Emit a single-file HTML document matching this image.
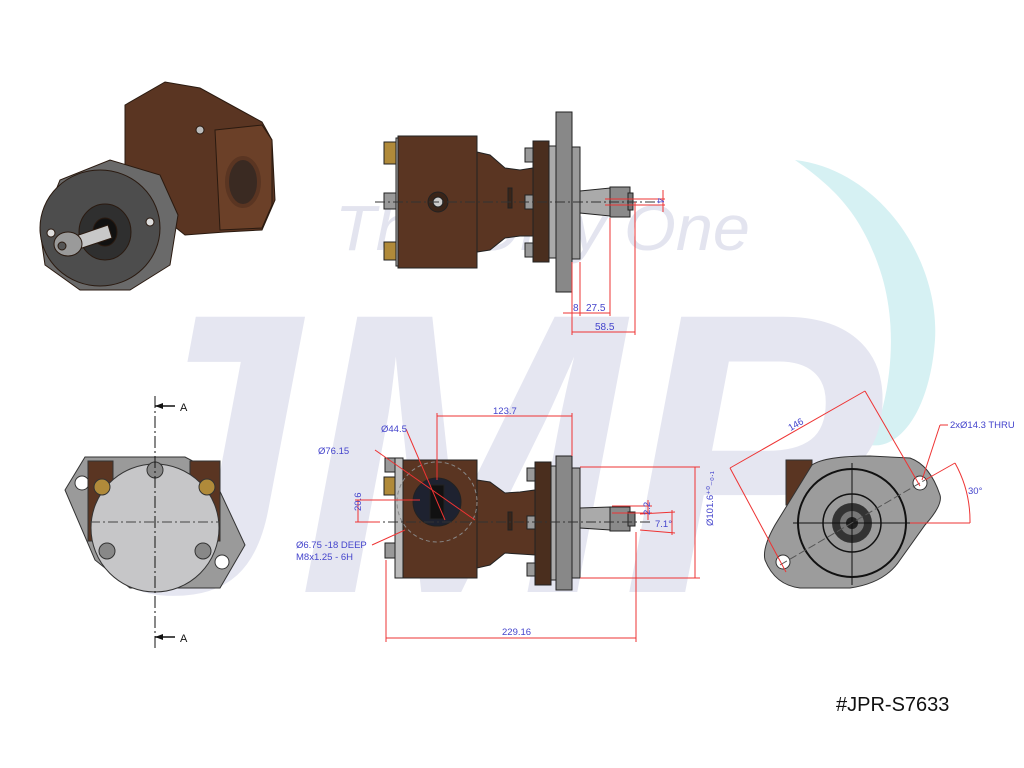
<!DOCTYPE html>
<html><head><meta charset="utf-8"><style>
html,body{margin:0;padding:0;background:#fff;}
svg{display:block;}
text{font-family:"Liberation Sans",sans-serif;}
</style></head><body>
<svg width="1024" height="768" viewBox="0 0 1024 768" xmlns="http://www.w3.org/2000/svg">
<!-- watermark -->
<path d="M795,160 C880,170 940,260 935,340 C930,410 900,450 870,445 C890,400 900,330 880,270 C860,210 830,185 795,160 Z" fill="#d6f1f3"/>
<text x="82" y="592" font-size="400" font-weight="bold" font-style="italic" fill="#e5e6f1" textLength="800" lengthAdjust="spacingAndGlyphs">JMP</text>
<text x="335" y="250" font-size="64" font-style="italic" fill="#e3e4ef" textLength="415" lengthAdjust="spacingAndGlyphs">The Only One</text>

<!-- ISO view -->
<g stroke="#2a1a10" stroke-width="1">
<path d="M125,105 L165,82 L200,88 L240,110 L262,122 L272,140 L275,200 L262,230 L225,232 L185,235 L160,215 L125,180 Z" fill="#5a3522"/>
<path d="M215,130 L262,125 L272,140 L272,205 L262,228 L220,230 Z" fill="#6b4028"/>
<ellipse cx="243" cy="182" rx="16" ry="24" fill="#3a2a22" stroke="#5a3522" stroke-width="4"/>
<circle cx="200" cy="130" r="4" fill="#bbb"/>
<path d="M40,230 L60,180 L110,160 L160,175 L178,215 L170,265 L130,290 L80,290 L45,265 Z" fill="#6a6a6a"/>
<ellipse cx="100" cy="228" rx="60" ry="58" fill="#4d4d4d"/>
<ellipse cx="105" cy="232" rx="26" ry="28" fill="#2f2f2f"/>
<ellipse cx="105" cy="232" rx="12" ry="14" fill="#111"/>
<polygon points="108,225 112,238 70,252 64,240" fill="#c8c8c8"/>
<ellipse cx="68" cy="244" rx="14" ry="12" fill="#9a9a9a"/>
<circle cx="62" cy="246" r="4" fill="#555"/>
<circle cx="51" cy="233" r="4" fill="#ddd"/><circle cx="150" cy="222" r="4" fill="#ddd"/>
</g>

<!-- TOP side view -->
<g stroke="#222" stroke-width="1">
<rect x="384" y="142" width="14" height="22" fill="#b08a3a"/>
<rect x="384" y="193" width="14" height="16" fill="#999"/>
<rect x="384" y="242" width="14" height="18" fill="#b08a3a"/>
<rect x="396" y="138" width="4" height="128" fill="#bbb"/>
<rect x="398" y="136" width="79" height="132" fill="#5a3522"/>
<path d="M477,152 L490,155 L505,168 L520,170 L533,168 L533,236 L520,236 L505,238 L490,250 L477,252 Z" fill="#5a3522"/>
<rect x="525" y="148" width="9" height="14" fill="#999"/><rect x="525" y="195" width="9" height="14" fill="#999"/><rect x="525" y="243" width="9" height="14" fill="#999"/>
<rect x="533" y="141" width="16" height="121" fill="#4a2e1e"/>
<rect x="549" y="146" width="8" height="112" fill="#aaa"/>
<rect x="556" y="112" width="16" height="180" fill="#888"/>
<rect x="572" y="147" width="8" height="112" fill="#9a9a9a"/>
<path d="M580,191 L610,188 L610,216 L580,213 Z" fill="#aaa"/>
<rect x="610" y="187" width="20" height="30" fill="#8a8a8a"/>
<rect x="628" y="193" width="5" height="17" fill="#777"/>
<circle cx="438" cy="202" r="10" fill="#3a2418"/><circle cx="438" cy="202" r="5" fill="#ccc"/>
<rect x="508" y="188" width="4" height="20" fill="#3a2418"/>
</g>
<line x1="375" y1="202" x2="660" y2="202" stroke="#333" stroke-width="1" stroke-dasharray="10,3,2,3"/>
<g stroke="#e33" stroke-width="1" fill="none">
<line x1="572" y1="262" x2="572" y2="335"/><line x1="580" y1="262" x2="580" y2="316"/>
<line x1="610" y1="218" x2="610" y2="316"/><line x1="635" y1="202" x2="635" y2="335"/>
<line x1="563" y1="313" x2="610" y2="313"/><line x1="572" y1="332" x2="635" y2="332"/>
<line x1="605" y1="199" x2="665" y2="199"/><line x1="605" y1="205" x2="665" y2="205"/>
<line x1="663" y1="190" x2="663" y2="212"/>
</g>
<g fill="#4444cc" font-size="10">
<text x="573" y="311">8</text><text x="586" y="311">27.5</text><text x="595" y="330">58.5</text>
<text x="656" y="205" transform="rotate(90 660 202)">4</text>
</g>

<!-- Front view (left) -->
<path d="M85,457 L185,457 L210,470 L245,545 L220,588 L130,588 L95,560 L65,490 Z" fill="#9a9a9a" stroke="#333"/>
<circle cx="82" cy="483" r="7" fill="#fff" stroke="#333"/><circle cx="222" cy="562" r="7" fill="#fff" stroke="#333"/>
<rect x="88" y="461" width="25" height="80" fill="#5a3522" stroke="#333"/>
<rect x="190" y="461" width="30" height="80" fill="#5a3522" stroke="#333"/>
<circle cx="155" cy="528" r="64" fill="#c6c6c8" stroke="#333"/>
<circle cx="155" cy="470" r="8" fill="#888" stroke="#333"/>
<circle cx="107" cy="551" r="8" fill="#888" stroke="#333"/><circle cx="203" cy="551" r="8" fill="#888" stroke="#333"/>
<circle cx="102" cy="487" r="8" fill="#b08a3a" stroke="#333"/><circle cx="207" cy="487" r="8" fill="#b08a3a" stroke="#333"/>
<line x1="155" y1="396" x2="155" y2="648" stroke="#111" stroke-dasharray="12,3,2,3"/>
<line x1="90" y1="522" x2="220" y2="522" stroke="#444" stroke-dasharray="10,3,2,3"/>
<g stroke="#111" stroke-width="1.5"><line x1="155" y1="406" x2="175" y2="406"/><line x1="155" y1="637" x2="175" y2="637"/></g>
<path d="M155,406 l8,-3 v6 z M155,637 l8,-3 v6 z" fill="#111"/>
<text x="180" y="411" font-size="11" fill="#111">A</text><text x="180" y="642" font-size="11" fill="#111">A</text>

<!-- Bottom side view -->
<g stroke="#222" stroke-width="1">
<rect x="385" y="458" width="12" height="14" fill="#999"/>
<rect x="384" y="477" width="13" height="18" fill="#b08a3a"/>
<rect x="385" y="543" width="12" height="15" fill="#999"/>
<rect x="395" y="458" width="8" height="120" fill="#bbb"/>
<rect x="403" y="460" width="74" height="118" fill="#5a3522"/>
<path d="M477,480 L490,482 L505,493 L520,492 L535,490 L535,555 L505,553 L490,565 L477,568 Z" fill="#5a3522"/>
<circle cx="437" cy="502" r="24" fill="#1e2230"/>
<rect x="430" y="485" width="14" height="34" fill="#111"/>
<rect x="527" y="468" width="9" height="13" fill="#999"/><rect x="527" y="516" width="9" height="13" fill="#999"/><rect x="527" y="563" width="9" height="13" fill="#999"/>
<rect x="535" y="462" width="16" height="123" fill="#4a2e1e"/>
<rect x="551" y="466" width="6" height="114" fill="#aaa"/>
<rect x="556" y="456" width="16" height="134" fill="#888"/>
<rect x="572" y="468" width="8" height="110" fill="#9a9a9a"/>
<path d="M580,508 L610,507 L610,530 L580,528 Z" fill="#aaa"/>
<rect x="610" y="507" width="20" height="24" fill="#8a8a8a"/>
<rect x="628" y="512" width="7" height="14" fill="#777"/>
<rect x="508" y="512" width="4" height="18" fill="#3a2418"/>
</g>
<circle cx="437" cy="502" r="40" fill="none" stroke="#888" stroke-dasharray="4,3"/>
<line x1="370" y1="522" x2="650" y2="522" stroke="#333" stroke-dasharray="10,3,2,3"/>
<g stroke="#e33" stroke-width="1" fill="none">
<line x1="437" y1="413" x2="437" y2="480"/><line x1="572" y1="413" x2="572" y2="456"/><line x1="437" y1="416" x2="572" y2="416"/>
<line x1="386" y1="560" x2="386" y2="642"/><line x1="636" y1="532" x2="636" y2="642"/><line x1="386" y1="638" x2="636" y2="638"/>
<line x1="580" y1="467" x2="700" y2="467"/><line x1="580" y1="578" x2="700" y2="578"/><line x1="695" y1="467" x2="695" y2="578"/>
<line x1="355" y1="500" x2="420" y2="500"/><line x1="355" y1="522" x2="380" y2="522"/><line x1="358" y1="500" x2="358" y2="522"/>
<line x1="406" y1="429" x2="445" y2="520"/><line x1="375" y1="450" x2="475" y2="520"/>
<line x1="372" y1="545" x2="405" y2="530"/>
<line x1="612" y1="506" x2="652" y2="506"/><line x1="612" y1="513" x2="652" y2="513"/><line x1="648" y1="500" x2="648" y2="520"/>
<line x1="640" y1="514" x2="675" y2="512"/><line x1="640" y1="530" x2="675" y2="533"/><line x1="672" y1="510" x2="672" y2="535"/>
</g>
<g fill="#4444cc" font-size="9.5">
<text x="493" y="414">123.7</text><text x="381" y="432">Ø44.5</text><text x="318" y="454">Ø76.15</text>
<text x="356" y="516" transform="rotate(-90 356 511)">20.6</text>
<text x="296" y="548">Ø6.75 -18 DEEP</text><text x="296" y="560">M8x1.25 - 6H</text>
<text x="502" y="635">229.16</text><text x="655" y="527">7.1°</text>
<text x="643" y="516" transform="rotate(-90 646 512)">2.2</text>
<text x="686" y="545" transform="rotate(-90 690 522)">Ø101.6⁺⁰₋₀.₁</text>
</g>

<!-- Right end view -->
<rect x="786" y="460" width="26" height="45" fill="#5a3522" stroke="#333"/>
<path d="M812,465 Q825,456 870,456 L910,458 Q930,465 940,495 Q943,505 925,525 L900,560 Q885,583 850,588 L800,588 Q775,585 765,560 Q762,548 775,525 Z" fill="#9c9c9c" stroke="#333"/>
<circle cx="852" cy="523" r="54" fill="none" stroke="#111" stroke-width="2"/>
<circle cx="852" cy="523" r="29" fill="none" stroke="#111" stroke-width="1.5"/>
<circle cx="852" cy="523" r="20" fill="#333"/><circle cx="852" cy="523" r="12" fill="#777"/><circle cx="852" cy="523" r="6" fill="#222"/>
<circle cx="920" cy="483" r="7" fill="#fff" stroke="#333"/><circle cx="783" cy="562" r="7" fill="#fff" stroke="#333"/>
<line x1="793" y1="523" x2="910" y2="523" stroke="#111"/><line x1="852" y1="463" x2="852" y2="585" stroke="#111"/>
<line x1="780" y1="565" x2="925" y2="480" stroke="#555" stroke-dasharray="8,3"/>
<g stroke="#e33" stroke-width="1" fill="none">
<line x1="730" y1="468" x2="865" y2="391"/><line x1="730" y1="468" x2="786" y2="572"/><line x1="865" y1="391" x2="920" y2="486"/>
<line x1="910" y1="523" x2="970" y2="523"/><line x1="925" y1="480" x2="955" y2="463"/>
<path d="M955,463 A120,120 0 0 1 970,523"/>
<line x1="922" y1="480" x2="940" y2="425"/><line x1="940" y1="425" x2="948" y2="425"/>
</g>
<g fill="#4444cc" font-size="9.5">
<text x="788" y="428" transform="rotate(-30 795 425)">146</text>
<text x="968" y="494">30°</text><text x="950" y="428">2xØ14.3 THRU</text>
</g>

<text x="836" y="711" font-size="20" fill="#111">#JPR-S7633</text>
</svg>
</body></html>
